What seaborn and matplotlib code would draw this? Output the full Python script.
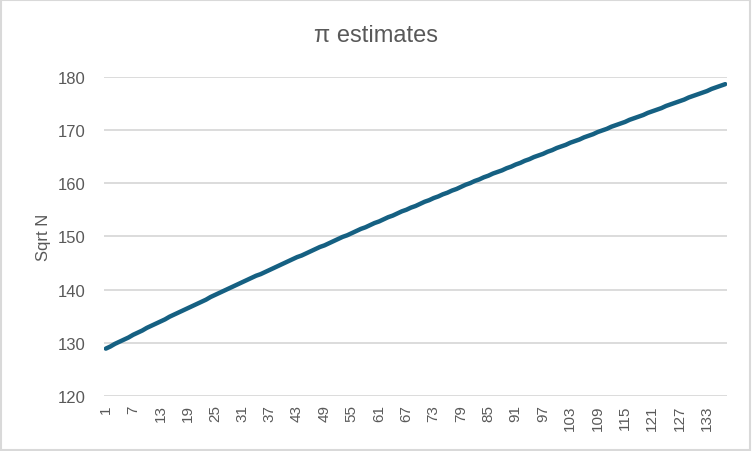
import numpy as np
import pandas as pd
import matplotlib
matplotlib.use('Agg')
import matplotlib.pyplot as plt
import seaborn as sns

# values (category 1..137)
sqrt_n = [
    128.9, 129.3, 129.8, 130.2, 130.6, 131.0, 131.5, 131.9, 132.3, 132.8,
    133.2, 133.6, 134.0, 134.4, 134.9, 135.3, 135.7, 136.1, 136.5, 136.9,
    137.3, 137.7, 138.1, 138.6, 139.0, 139.4, 139.8, 140.2, 140.6, 141.0,
    141.4, 141.8, 142.2, 142.6, 142.9, 143.3, 143.7, 144.1, 144.5, 144.9,
    145.3, 145.7, 146.1, 146.4, 146.8, 147.2, 147.6, 148.0, 148.3, 148.7,
    149.1, 149.5, 149.9, 150.2, 150.6, 151.0, 151.4, 151.7, 152.1, 152.5,
    152.8, 153.2, 153.6, 153.9, 154.3, 154.7, 155.0, 155.4, 155.7, 156.1,
    156.5, 156.8, 157.2, 157.5, 157.9, 158.2, 158.6, 158.9, 159.3, 159.7,
    160.0, 160.4, 160.7, 161.1, 161.4, 161.8, 162.1, 162.4, 162.8, 163.1,
    163.5, 163.8, 164.2, 164.5, 164.9, 165.2, 165.5, 165.9, 166.2, 166.6,
    166.9, 167.2, 167.6, 167.9, 168.2, 168.6, 168.9, 169.2, 169.6, 169.9,
    170.2, 170.6, 170.9, 171.2, 171.5, 171.9, 172.2, 172.5, 172.8, 173.2,
    173.5, 173.8, 174.1, 174.5, 174.8, 175.1, 175.4, 175.7, 176.1, 176.4,
    176.7, 177.0, 177.3, 177.7, 178.0, 178.3, 178.6,
]
categories = list(range(1, len(sqrt_n) + 1))
x_ticks = categories[::6]
y_ticks = [120, 130, 140, 150, 160, 170, 180]

sns.set_theme(style='white')
plt.rcParams['font.family'] = ['Liberation Sans', 'DejaVu Sans']

grey_txt = '#595959'
grid_col = '#d9d9d9'

df = pd.DataFrame({'n': categories, 'sqrt_n': sqrt_n})

fig = plt.figure(figsize=(7.52, 4.52), dpi=100)
ax = fig.add_axes([0.1383, 0.1217, 0.8285, 0.7064])

sns.lineplot(data=df, x='n', y='sqrt_n', ax=ax, color='#156082', linewidth=3.2)

ax.set_xlim(0.6, len(sqrt_n) + 0.4)
ax.set_ylim(120, 180)
ax.set_yticks(y_ticks)
ax.set_xticks(x_ticks)
ax.set_xticklabels([str(t) for t in x_ticks], rotation=90)
ax.yaxis.grid(True, color=grid_col, linewidth=1.3)
ax.xaxis.grid(False)
ax.set_axisbelow(True)
for s in ax.spines.values():
    s.set_visible(False)
ax.tick_params(axis='y', length=0, pad=13, labelsize=12, labelcolor=grey_txt)
ax.tick_params(axis='x', length=0, pad=6, labelsize=11, labelcolor=grey_txt)

ax.set_xlabel('')
ax.set_ylabel('Sqrt N', fontsize=12, color=grey_txt, labelpad=5)

fig.text(0.5, 1 - 36 / 452, 'π estimates', ha='center', va='center',
         fontsize=17, color=grey_txt)

# light chart border
fig.patches.append(plt.Rectangle((0.001, 0.002), 0.997, 0.996, transform=fig.transFigure,
                                 fill=False, edgecolor=grid_col, linewidth=1.5))

fig.savefig('out.png', dpi=100)
